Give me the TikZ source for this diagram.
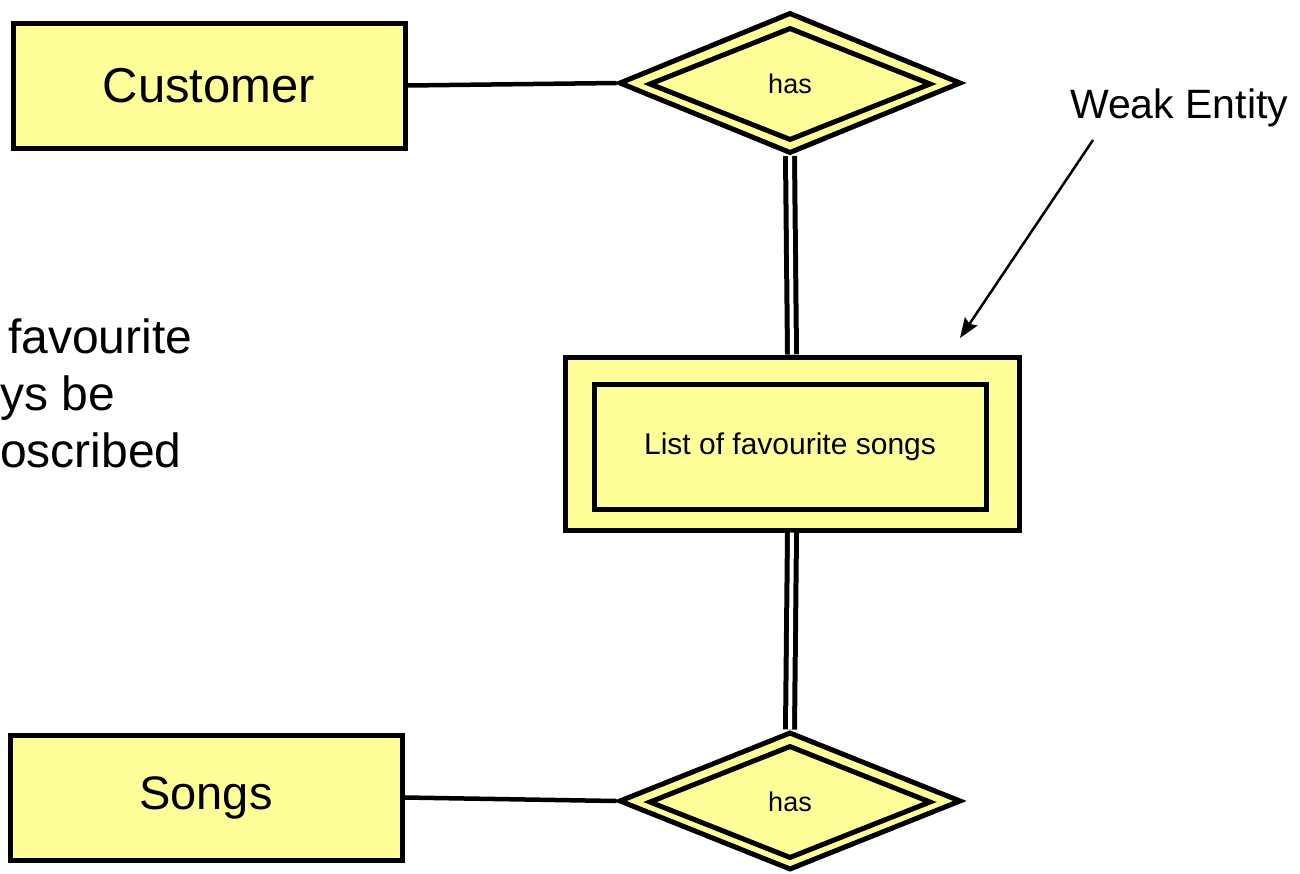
\documentclass[tikz,border=0pt]{standalone}
\usepackage{fontspec}
\setmainfont{Liberation Sans}
\usetikzlibrary{shapes.geometric,arrows.meta}
\definecolor{erfill}{HTML}{FFFF99}
\tikzset{
  entity/.style={draw=black, line width=5pt, fill=erfill, rectangle, inner sep=0pt},
  rel/.style={draw=black, line width=5pt, fill=erfill, diamond, inner sep=0pt},
  link/.style={draw=black, line width=4.5pt},
  dlink/.style={draw=black, line width=5pt, double=white, double distance=4pt},
  note/.style={inner sep=0pt, anchor=base west, font=\fontsize{48}{56}\selectfont}
}
\begin{document}
\begin{tikzpicture}[x=1pt,y=-1pt]
\useasboundingbox (0,0) rectangle (1300,873);
% entities
\node[entity, minimum width=392pt, minimum height=125pt, font=\fontsize{49}{56}\selectfont] (cust) at (209,85.5) {Customer};
\node[entity, minimum width=392pt, minimum height=125pt, font=\fontsize{47}{56}\selectfont] (songs) at (206,797.5) {Songs};
\node[entity, minimum width=454pt, minimum height=173pt] (weak) at (792,443.5) {};
\node[entity, minimum width=392pt, minimum height=125pt, font=\fontsize{30}{36}\selectfont] (weakin) at (790,447) {List of favourite songs};
% relationships
\node[rel, minimum width=342pt, minimum height=141pt] (has1) at (790,83) {};
\node[rel, minimum width=282pt, minimum height=113pt, font=\fontsize{27}{32}\selectfont] (has1in) at (790,84) {has};
\node[rel, minimum width=342pt, minimum height=138pt] (has2) at (790,801) {};
\node[rel, minimum width=282pt, minimum height=113pt, font=\fontsize{27}{32}\selectfont] (has2in) at (790,802) {has};
% connectors
\draw[link] (cust.east) -- (has1.west);
\draw[link] (songs.east) -- (has2.west);
\draw[dlink] (has1.south) -- (weak.north);
\draw[dlink] (weak.south) -- (has2.north);
% annotation
\node[inner sep=0pt, font=\fontsize{41}{48}\selectfont, anchor=base west] (lbl) at (1070,118) {Weak Entity};
\coordinate (astart) at (1093,140);
\coordinate (aend) at (960,338);
\draw[line width=2.5pt, -{Stealth[length=20pt,width=15pt,inset=3pt]}] (astart) -- (aend);
% side text, cut by the left edge in the reference
\node[note] (t1) at (8,353) {favourite};
\node[note] (t2) at (0,410) {ys be};
\node[note] (t3) at (0,467) {oscribed};
\end{tikzpicture}
\end{document}
